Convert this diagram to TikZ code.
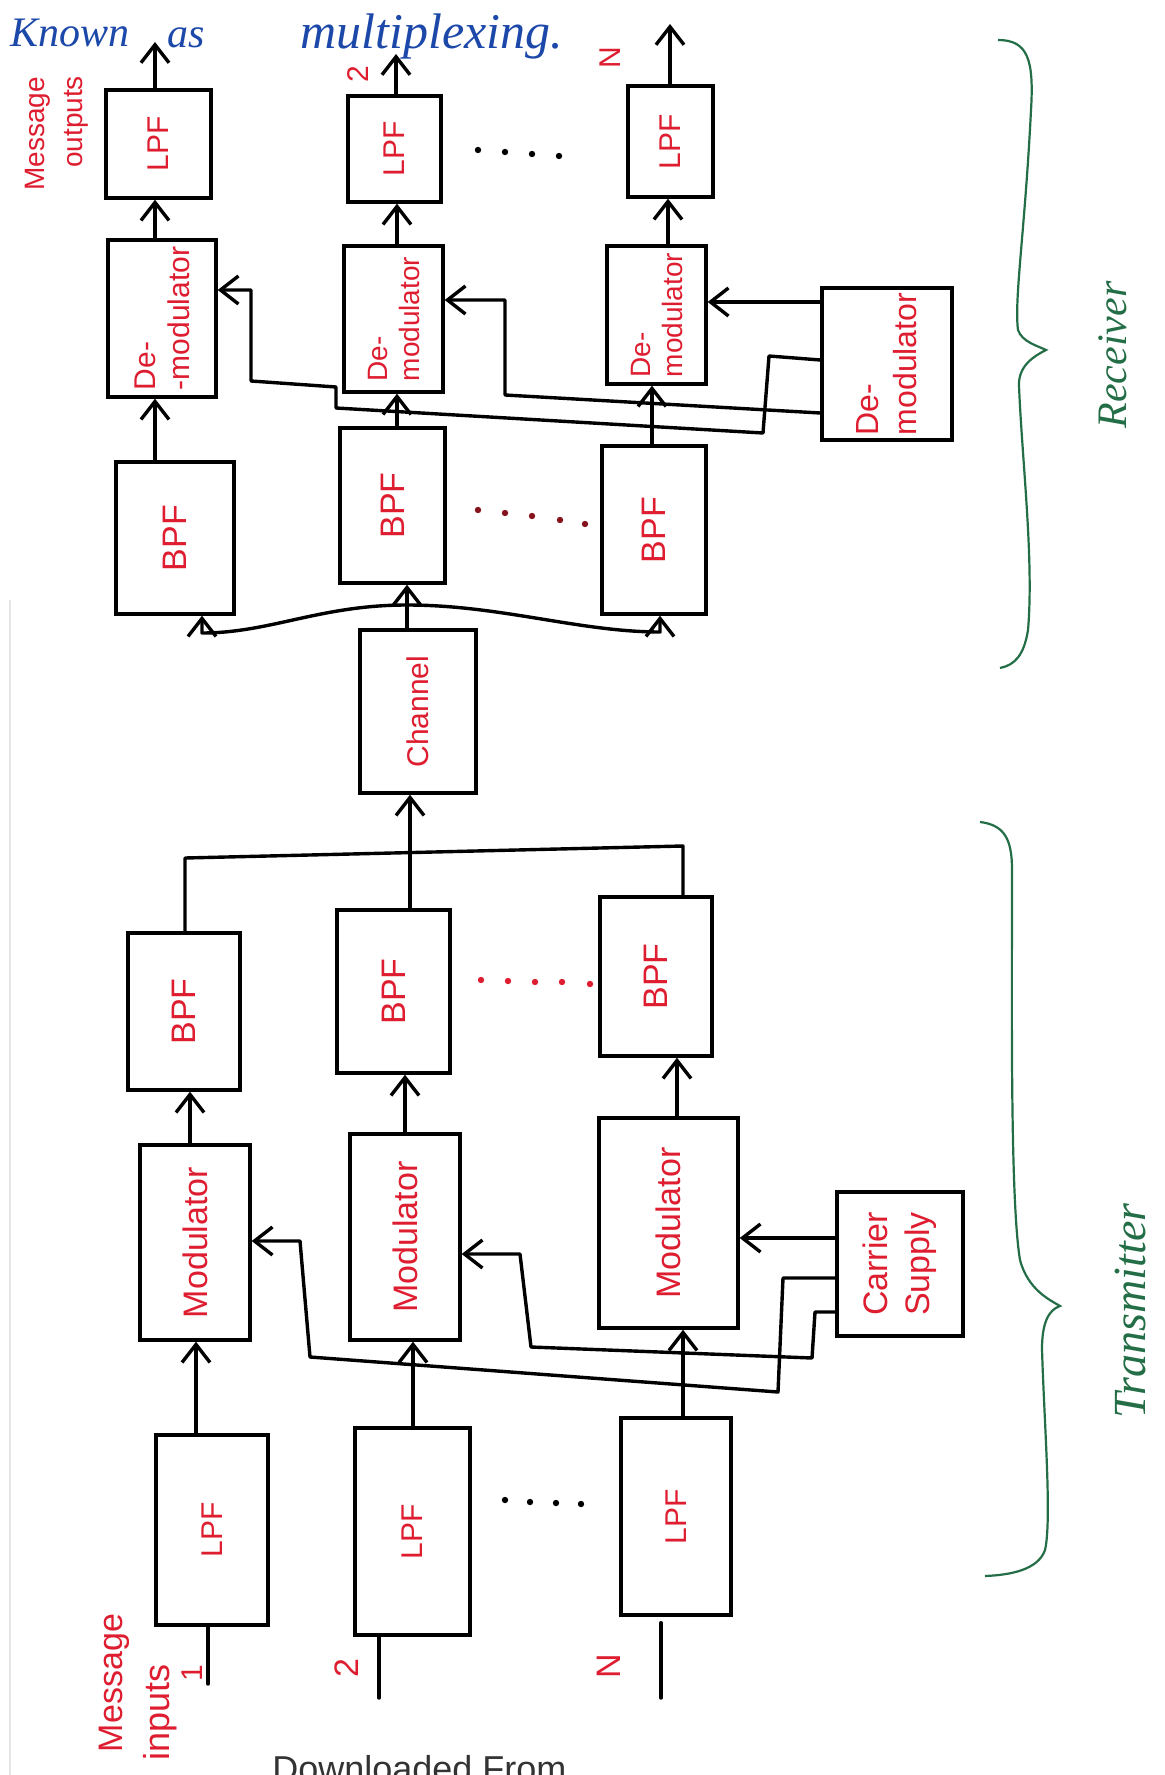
\documentclass[tikz,border=0pt]{standalone}
\usepackage{fontspec}
\setmainfont{Liberation Sans}
\newfontfamily\handfont{Liberation Serif}
\usetikzlibrary{arrows.meta,fit}
\definecolor{inkred}{RGB}{222,30,48}
\definecolor{inkblue}{RGB}{28,72,170}
\definecolor{inkgreen}{RGB}{35,110,70}
\tikzset{
  box/.style={draw=black, line width=1.7pt, inner sep=0pt},
  wire/.style={draw=black, line width=1.7pt, line join=round, line cap=round},
  arr/.style={wire, -{Straight Barb[length=9pt,width=14pt]}},
  lbl/.style={text=inkred, rotate=90, inner sep=0pt, align=center},
  tag/.style={text=inkred, rotate=90, inner sep=0pt, font=\fontsize{15}{16}\selectfont},
  note/.style={text=inkblue, inner sep=0pt, font=\handfont\itshape\fontsize{21}{22}\selectfont},
  side/.style={text=inkgreen, rotate=90, inner sep=0pt, font=\handfont\itshape\fontsize{21}{22}\selectfont},
  brace/.style={draw=inkgreen, line width=1.1pt, line join=miter},
}
\begin{document}
\begin{tikzpicture}[x=0.5pt,y=-0.5pt]
\useasboundingbox (0,0) rectangle (1165,1775);
\clip (0,0) rectangle (1165,1775);
\fill[white] (0,0) rectangle (1165,1775);
\draw[black!10, line width=1.2pt] (10,600) -- (10,1775);

% ---------- receiver ----------
\node[box, fit={(106,90) (211,198)}] (lpfRa) {};
\node[box, fit={(348,96) (441,202)}] (lpfRb) {};
\node[box, fit={(628,86) (713,197)}] (lpfRn) {};
\node[box, fit={(108,240) (216,397)}] (dmA) {};
\node[box, fit={(344,246) (443,392)}] (dmB) {};
\node[box, fit={(607,246) (706,384)}] (dmC) {};
\node[box, fit={(822,288) (952,440)}] (dmD) {};
\node[box, fit={(116,462) (234,614)}] (bpRa) {};
\node[box, fit={(340,428) (445,583)}] (bpRb) {};
\node[box, fit={(602,446) (706,614)}] (bpRn) {};
\node[box, fit={(360,630) (476,793)}] (chan) {};

\node[lbl, font=\fontsize{15}{16}\selectfont] (tLRa) at (lpfRa.center) {LPF};
\node[lbl, font=\fontsize{15}{16}\selectfont] (tLRb) at (lpfRb.center) {LPF};
\node[lbl, font=\fontsize{15}{16}\selectfont] (tLRn) at (lpfRn.center) {LPF};
\node[lbl, font=\fontsize{15}{17}\selectfont, align=left] (tDA) at (dmA.center) {De-\\-modulator};
\node[lbl, font=\fontsize{14}{16}\selectfont, align=left] (tDB) at (dmB.center) {De-\\modulator};
\node[lbl, font=\fontsize{14}{16}\selectfont, align=left] (tDC) at (dmC.center) {De-\\modulator};
\node[lbl, font=\fontsize{16}{19}\selectfont, align=left] (tDD) at (dmD.center) {De-\\modulator};
\node[lbl, font=\fontsize{17}{18}\selectfont] (tBRa) at (bpRa.center) {BPF};
\node[lbl, font=\fontsize{17}{18}\selectfont] (tBRb) at (bpRb.center) {BPF};
\node[lbl, font=\fontsize{17}{18}\selectfont] (tBRn) at (bpRn.center) {BPF};
\node[lbl, font=\fontsize{15}{16}\selectfont] (tCh) at (chan.center) {Channel};

% receiver columns
\coordinate (xA) at (155,0);
\coordinate (xB) at (397,0);
\coordinate (xN) at (668,0);
\coordinate (xNb) at (652,0);
\coordinate (outA) at (155,42);
\coordinate (outB) at (396,54);
\coordinate (outN) at (670,24);
\draw[arr] (lpfRa.north -| outA) -- (outA);
\draw[arr] (lpfRb.north -| outB) -- (outB);
\draw[arr] (lpfRn.north -| outN) -- (outN);
\draw[arr] (dmA.north -| xA) -- (lpfRa.south -| xA);
\draw[arr] (dmB.north -| xB) -- (lpfRb.south -| xB);
\draw[arr] (dmC.north -| xN) -- (lpfRn.south -| xN);
\draw[arr] (bpRa.north -| xA) -- (dmA.south -| xA);
\draw[arr] (bpRb.north -| xB) -- (dmB.south -| xB);
\draw[arr] (bpRn.north -| xNb) -- (dmC.south -| xNb);

% local carrier feeds of the receiver
\coordinate (kC) at (0,302);
\draw[arr] (dmD.west |- kC) -- (dmC.east |- kC);
\coordinate (kB1) at (505,300);
\coordinate (kB2) at (505,395);
\coordinate (kB3) at (0,413);
\draw[arr] (dmD.west |- kB3) -- (kB2) -- (kB1) -- (dmB.east |- kB1);
\coordinate (kA0) at (0,360);
\coordinate (kA1) at (769,356);
\coordinate (kA2) at (763,433);
\coordinate (kA3) at (336,408);
\coordinate (kA4) at (336,387);
\coordinate (kA5) at (251,381);
\coordinate (kA6) at (251,290);
\draw[arr] (dmD.west |- kA0) -- (kA1) -- (kA2) -- (kA3) -- (kA4) -- (kA5) -- (kA6) -- (dmA.east |- kA6);

% channel output to the band-pass filters
\coordinate (jn) at (407,605);
\coordinate (dL) at (202,633);
\coordinate (dR) at (660,632);
\draw[wire] (chan.north -| jn) -- (jn);
\draw[arr] (jn) -- (bpRb.south -| jn);
\draw[arr] (jn) .. controls (320,605) and (270,633) .. (dL) -- (bpRa.south -| dL);
\draw[arr] (jn) .. controls (500,605) and (580,632) .. (dR) -- (bpRn.south -| dR);

% dots between channels
\foreach \px/\py in {478/150,505/152,532/154,559/156}
  \fill[black] (\px,\py) circle (1.6pt);
\foreach \px/\py in {478/510,505/513,532/516,560/520,585/524}
  \fill[inkred!60!black] (\px,\py) circle (1.6pt);

% ---------- transmitter ----------
\node[box, fit={(128,933) (240,1090)}] (bpTa) {};
\node[box, fit={(337,910) (450,1073)}] (bpTb) {};
\node[box, fit={(600,897) (712,1056)}] (bpTn) {};
\node[box, fit={(140,1145) (250,1340)}] (modA) {};
\node[box, fit={(350,1134) (460,1340)}] (modB) {};
\node[box, fit={(599,1118) (738,1328)}] (modC) {};
\node[box, fit={(837,1192) (963,1336)}] (carrier) {};
\node[box, fit={(156,1435) (268,1625)}] (lpTa) {};
\node[box, fit={(355,1428) (470,1635)}] (lpTb) {};
\node[box, fit={(621,1418) (731,1615)}] (lpTn) {};

\node[lbl, font=\fontsize{17}{18}\selectfont] (tBTa) at (bpTa.center) {BPF};
\node[lbl, font=\fontsize{17}{18}\selectfont] (tBTb) at (bpTb.center) {BPF};
\node[lbl, font=\fontsize{17}{18}\selectfont] (tBTn) at (bpTn.center) {BPF};
\node[lbl, font=\fontsize{17}{18}\selectfont] (tMA) at (modA.center) {Modulator};
\node[lbl, font=\fontsize{17}{18}\selectfont] (tMB) at (modB.center) {Modulator};
\node[lbl, font=\fontsize{17}{18}\selectfont] (tMC) at (modC.center) {Modulator};
\node[lbl, font=\fontsize{17}{21}\selectfont] (tCS) at (carrier.center) {Carrier\\Supply};
\node[lbl, font=\fontsize{15}{16}\selectfont] (tLTa) at (lpTa.center) {LPF};
\node[lbl, font=\fontsize{15}{16}\selectfont] (tLTb) at (lpTb.center) {LPF};
\node[lbl, font=\fontsize{15}{16}\selectfont] (tLTn) at (lpTn.center) {LPF};

% summing bus into the channel
\coordinate (cL) at (185,858);
\coordinate (cR) at (683,846);
\coordinate (cJ) at (410,851);
\draw[wire] (bpTa.north -| cL) -- (cL) -- (cR) -- (bpTn.north -| cR);
\draw[arr] (bpTb.north -| cJ) -- (chan.south -| cJ);

% modulators to band-pass filters
\coordinate (mA) at (190,0);
\coordinate (mB) at (405,0);
\coordinate (mN) at (677,0);
\draw[arr] (modA.north -| mA) -- (bpTa.south -| mA);
\draw[arr] (modB.north -| mB) -- (bpTb.south -| mB);
\draw[arr] (modC.north -| mN) -- (bpTn.south -| mN);

% low-pass filters to modulators
\coordinate (lA) at (196,0);
\coordinate (lB) at (413,0);
\coordinate (lN) at (683,0);
\draw[arr] (lpTa.north -| lA) -- (modA.south -| lA);
\draw[arr] (lpTb.north -| lB) -- (modB.south -| lB);
\draw[arr] (lpTn.north -| lN) -- (modC.south -| lN);

% message inputs
\coordinate (iA) at (208,1684);
\coordinate (iB) at (379,1698);
\coordinate (iN) at (661,1698);
\draw[wire] (lpTa.south -| iA) -- (iA);
\draw[wire] (lpTb.south -| iB) -- (iB);
\draw[wire] ([yshift=-3pt]lpTn.south -| iN) -- (iN);

% carrier feeds of the transmitter
\coordinate (tC) at (0,1238);
\draw[arr] (carrier.west |- tC) -- (modC.east |- tC);
\coordinate (tA0) at (0,1278);
\coordinate (tA1) at (783,1278);
\coordinate (tA2) at (778,1392);
\coordinate (tA3) at (310,1357);
\coordinate (tA4) at (300,1241);
\draw[arr] (carrier.west |- tA0) -- (tA1) -- (tA2) -- (tA3) -- (tA4) -- (modA.east |- tA4);
\coordinate (tB0) at (0,1312);
\coordinate (tB1) at (815,1312);
\coordinate (tB2) at (812,1358);
\coordinate (tB3) at (531,1347);
\coordinate (tB4) at (520,1254);
\draw[arr] (carrier.west |- tB0) -- (tB1) -- (tB2) -- (tB3) -- (tB4) -- (modB.east |- tB4);

\foreach \px/\py in {481/980,508/981,535/982,562/982,590/984}
  \fill[inkred] (\px,\py) circle (1.6pt);
\foreach \px/\py in {505/1500,530/1502,556/1503,581/1504}
  \fill[black] (\px,\py) circle (1.6pt);

% ---------- labels ----------
\node[tag] (nOut2) at (358,74) {2};
\node[tag] (nOutN) at (610,58) {N};
\node[tag] (nIn1) at (192,1673) {1};
\node[tag, font=\fontsize{17}{18}\selectfont] (nIn2) at (347,1668) {2};
\node[tag, font=\fontsize{17}{18}\selectfont] (nInN) at (609,1666) {N};
\node[tag, font=\fontsize{14}{15}\selectfont] (mOut1) at (38,134) {Message};
\node[tag, font=\fontsize{14}{15}\selectfont] (mOut2) at (76,122) {outputs};
\node[tag, font=\fontsize{17}{18}\selectfont] (mIn1) at (114,1683) {Message};
\node[tag, font=\fontsize{18}{19}\selectfont] (mIn2) at (160,1712) {inputs};

\node[note] (known) at (70,33) {Known};
\node[note] (knownAs) at (186,38) {as};
\node[note, font=\handfont\itshape\fontsize{25}{26}\selectfont] (mux) at (432,36) {multiplexing.};

% ---------- braces ----------
\draw[brace] (998,40) .. controls (1028,40) and (1034,60) .. (1031,110)
  .. controls (1025,230) and (1014,300) .. (1018,330)
  .. controls (1022,342) and (1038,346) .. (1046,350)
  .. controls (1034,356) and (1018,366) .. (1019,386)
  .. controls (1022,460) and (1034,560) .. (1028,630)
  .. controls (1024,655) and (1015,665) .. (1000,668);
\draw[brace] (980,822) .. controls (1005,825) and (1012,840) .. (1012,870)
  .. controls (1012,1000) and (1010,1200) .. (1020,1260)
  .. controls (1028,1290) and (1050,1300) .. (1060,1306)
  .. controls (1048,1310) and (1042,1324) .. (1042,1349)
  .. controls (1044,1420) and (1052,1520) .. (1045,1550)
  .. controls (1038,1570) and (1010,1575) .. (985,1576);
\node[side] (rx) at (1113,355) {Receiver};
\node[side, font=\handfont\itshape\fontsize{23}{24}\selectfont] (tx) at (1130,1311) {Transmitter};

% footer line of the sheet
\node[anchor=north west, inner sep=0pt, text=black!80, font=\fontsize{18}{19}\selectfont] (foot) at (272,1755) {Downloaded From};
\end{tikzpicture}
\end{document}
